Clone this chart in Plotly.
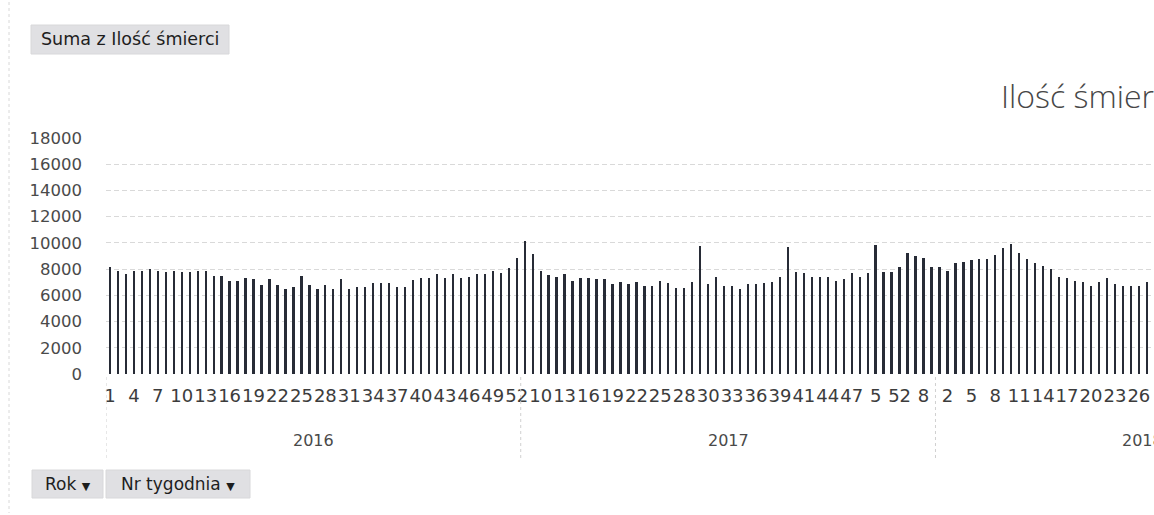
import plotly.graph_objects as go

# ---------------- data ----------------
years = ["2016", "2017", "2018"]

weeks_2016 = [str(w) for w in range(1, 53)]
weeks_2017 = (["1", "2"] + [str(w) for w in range(10, 30)] + ["3"] +
              [str(w) for w in range(30, 40)] + ["4"] +
              [str(w) for w in range(40, 50)] + ["5"] +
              [str(w) for w in range(50, 53)] + ["6", "7", "8", "9"])
weeks_2018 = [str(w) for w in range(1, 28)]

deaths_2016 = [8190, 7880, 7630, 7880, 7880, 8010, 7880, 7780, 7880, 7780,
               7780, 7880, 7880, 7500, 7500, 7070, 7070, 7320, 7250, 6770,
               7250, 6770, 6510, 6660, 7500, 6770, 6510, 6770, 6510, 7250,
               6510, 6660, 6660, 6920, 6920, 6920, 6660, 6610, 7170, 7300,
               7300, 7600, 7300, 7600, 7300, 7420, 7600, 7600, 7860, 7730,
               8110, 8820]
deaths_2017 = [10170, 9150, 7860, 7550, 7420, 7600, 7120, 7300, 7300, 7250,
               7250, 6870, 6990, 6870, 6990, 6710, 6710, 7090, 6920, 6590,
               6590, 6990, 9790, 6840, 7370, 6710, 6710, 6460, 6840, 6840,
               6970, 7040, 7420, 9710, 7810, 7680, 7370, 7370, 7370, 7120,
               7250, 7680, 7370, 7680, 9840, 7810, 7810, 8190, 9250, 8980,
               8820, 8190]
deaths_2018 = [8190, 7880, 8440, 8540, 8700, 8800, 8800, 9080, 9640, 9920,
               9250, 8800, 8440, 8260, 7990, 7420, 7300, 7120, 6990, 6710,
               6990, 7350, 6840, 6710, 6710, 6710, 6990]
weeks_per_year_full = [52, 52, 52]

y_ticks = [0, 2000, 4000, 6000, 8000, 10000, 12000, 14000, 16000, 18000]

# ---------------- layout geometry ----------------
W, H = 1154, 515
L, R, T, B = 106, 0, 138, 141
PW, PH = W - L - R, H - T - B


def pxx(px):
    return (px - L) / PW


def pxy(py):
    return (H - B - py) / PH


week_labels = weeks_2016 + weeks_2017 + weeks_2018
values = deaths_2016 + deaths_2017 + deaths_2018
idx = list(range(len(values)))

tickvals = idx[::3]
ticktext = [week_labels[i] for i in tickvals]

fig = go.Figure()
fig.add_trace(go.Bar(
    x=idx, y=values, width=0.29,
    marker=dict(color="#272b36", line=dict(width=0)),
    hovertext=week_labels, showlegend=False,
))

fig.update_layout(
    width=W, height=H,
    margin=dict(l=L, r=R, t=T, b=B, autoexpand=False),
    paper_bgcolor="white", plot_bgcolor="white",
    bargap=0,
    font=dict(family="DejaVu Sans", color="#444444"),
    xaxis=dict(
        range=[-0.5, 130.9], tickmode="array", tickvals=tickvals,
        ticktext=ticktext, tickangle=0, showgrid=False, zeroline=False,
        showline=False, ticks="", automargin=False,
        tickfont=dict(size=18, color="#3c3c3c", family="DejaVu Sans"),
        ticklabelstandoff=9,
    ),
    yaxis=dict(
        range=[0, 18000], tickmode="array", tickvals=y_ticks,
        ticktext=[str(v) for v in y_ticks],
        showgrid=True, gridcolor="#d9d9d9", griddash="5px,3px",
        gridwidth=1, zeroline=False, showline=False, ticks="",
        automargin=False, ticklabelstandoff=23,
        tickfont=dict(size=16.5, color="#4a4a4a", family="DejaVu Sans"),
    ),
)

shapes = []
annotations = []

# year group labels and separators
start = 0
seps = [-0.5]
for yr, n in zip(years, weeks_per_year_full):
    center = start + (n - 1) / 2
    annotations.append(dict(
        x=center, y=pxy(440), xref="x", yref="paper", text=yr,
        showarrow=False, xanchor="center", yanchor="middle",
        font=dict(size=16, color="#4a4a4a", family="DejaVu Sans"),
    ))
    start += n
    seps.append(start - 0.5)
for s in seps[:-1]:
    shapes.append(dict(type="line", xref="x", yref="paper", x0=s, x1=s,
                       y0=pxy(377), y1=pxy(458),
                       line=dict(color="#d0d0d0", width=1, dash="dot")))

# chart title (cut off at the right edge, as in the original)
annotations.append(dict(
    x=pxx(999), y=pxy(95), xref="paper", yref="paper",
    text="Ilość śmierci", showarrow=False, xanchor="left", yanchor="middle",
    font=dict(size=32, color="#474747", family="Open Sans", weight=300),
))


def button(x0, x1, y0, y1, text, size=17):
    shapes.append(dict(type="rect", xref="paper", yref="paper",
                       x0=pxx(x0), x1=pxx(x1), y0=pxy(y1), y1=pxy(y0),
                       fillcolor="#e0e0e3", line=dict(color="#d8d8da", width=1)))
    annotations.append(dict(
        x=pxx((x0 + x1) / 2), y=pxy((y0 + y1) / 2), xref="paper", yref="paper",
        text=text, showarrow=False, xanchor="center", yanchor="middle",
        font=dict(size=size, color="#1e1e1e", family="DejaVu Sans"),
    ))


tri = " <span style='font-size:11px'>▼</span>"
button(31, 229, 25, 54, "Suma z Ilość śmierci", 17.5)
button(32, 103, 470, 498, "Rok" + tri)
button(106, 250, 470, 498, "Nr tygodnia" + tri)

# faint chart-area border on the left
shapes.append(dict(type="line", xref="paper", yref="paper",
                   x0=pxx(9), x1=pxx(9), y0=pxy(2), y1=pxy(513),
                   line=dict(color="#d8d8d8", width=1, dash="dot")))

fig.update_layout(shapes=shapes, annotations=annotations)
fig.write_html("out.html",
               config={"displayModeBar": False},
               post_script="document.body.style.margin='0';"
                           "document.body.style.overflow='hidden';")
